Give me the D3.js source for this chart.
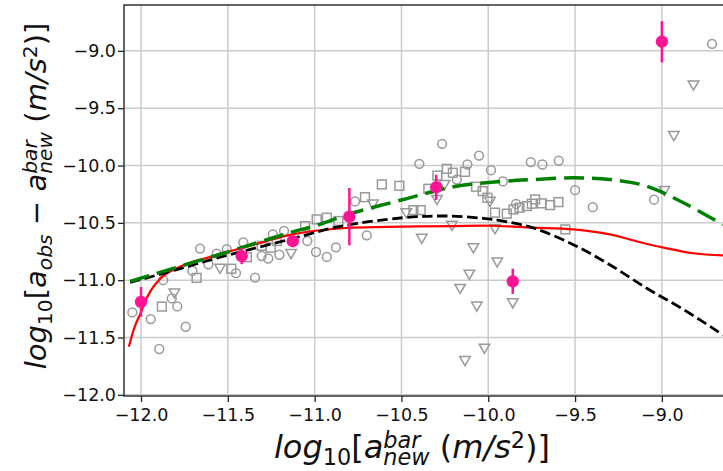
<!DOCTYPE html>
<html>
<head>
<meta charset="utf-8">
<script src="https://cdn.jsdelivr.net/npm/d3@7"></script>
<style>
	body { margin: 0; background: #fff; }
	svg { display: block; font-family: "DejaVu Sans", sans-serif; }
</style>
</head>
<body>
<div id="chart"></div>
<script>
// Binned points (magenta) with vertical errors
const binX = [-12.0, -11.42, -11.126, -10.80, -10.30, -9.859, -9.0];
const binY = [-11.19, -10.79, -10.66, -10.446, -10.19, -11.01, -8.92];
const binErr = [0.13, 0.07, 0.05, 0.25, 0.11, 0.11, 0.18];

// Grey open circles
const circX = [-12.05, -11.944, -11.895, -11.743, -11.791, -11.823, -11.872, -11.704, -11.66, -11.612,
	-11.564, -11.506, -11.453, -11.411, -11.343, -11.305, -11.267, -11.241, -11.203, -11.176,
	-11.042, -10.992, -10.93, -10.877, -10.767, -10.70, -10.397, -10.266, -10.181, -10.12,
	-10.053, -9.984, -9.916, -9.84, -9.755, -9.688, -9.594, -9.50, -9.398, -9.045, -8.711];
const circY = [-11.281, -11.339, -11.60, -11.406, -11.229, -11.159, -11.0, -10.919, -10.724, -10.861,
	-10.768, -10.73, -10.939, -10.67, -10.977, -10.789, -10.811, -10.60, -10.778, -10.571,
	-10.658, -10.754, -10.797, -10.713, -10.313, -10.609, -9.985, -9.811, -10.122, -9.991,
	-9.913, -10.041, -10.139, -10.335, -9.97, -9.991, -9.957, -10.215, -10.363, -10.298, -8.939];

// Grey open squares
const sqX = [-11.88, -11.68, -11.48, -11.39, -11.305, -11.253, -11.218, -11.055, -10.988, -10.93,
	-10.863, -10.71, -10.613, -10.512, -10.431, -10.389, -10.345, -10.293, -10.239, -10.204,
	-10.134, -10.07, -10.032, -10.005, -9.961, -9.893, -9.855, -9.82, -9.778, -9.749,
	-9.73, -9.692, -9.644, -9.596, -9.556];
const sqY = [-11.23, -10.98, -10.90, -10.80, -10.70, -10.716, -10.658, -10.528, -10.47, -10.455,
	-10.484, -10.276, -10.165, -10.177, -10.389, -10.389, -10.203, -10.087, -10.029, -10.063,
	-10.055, -10.185, -10.223, -10.281, -10.411, -10.42, -10.383, -10.368, -10.354, -10.333,
	-10.296, -10.33, -10.345, -10.319, -10.557];

// Grey open down-triangles
const triX = [-11.808, -11.545, -11.136, -10.664, -10.472, -10.383, -10.295, -10.252, -10.209, -10.162,
	-10.109, -10.086, -10.066, -10.022, -10.134, -9.99, -9.961, -9.948, -9.859, -8.985,
	-8.931, -8.818];
const triY = [-11.104, -10.887, -10.759, -10.328, -10.404, -10.626, -10.287, -10.157, -10.513, -11.063,
	-10.939, -10.709, -11.217, -11.585, -11.693, -10.304, -10.542, -10.832, -11.189, -10.209,
	-9.73, -9.29];

// Model curves
const redX = [-12.07, -12.035, -12.0, -11.975, -11.92, -11.86, -11.80, -11.73, -11.63, -11.52,
	-11.42, -11.30, -11.13, -10.82, -10.58, -10.20, -10.0, -9.82, -9.74, -9.51,
	-9.30, -9.13, -8.99, -8.82, -8.647];
const redY = [-11.58, -11.40, -11.28, -11.18, -11.04, -10.95, -10.90, -10.855, -10.81, -10.76,
	-10.72, -10.67, -10.60, -10.545, -10.535, -10.528, -10.525, -10.535, -10.542, -10.557,
	-10.60, -10.667, -10.716, -10.765, -10.783];

const blackX = [-12.063, -11.8, -11.545, -11.142, -10.85, -10.49, -10.25, -10.03, -9.93, -9.74,
	-9.51, -9.30, -9.087, -8.876, -8.647];
const blackY = [-11.02, -10.91, -10.80, -10.643, -10.53, -10.455, -10.44, -10.46, -10.48, -10.545,
	-10.69, -10.865, -11.07, -11.255, -11.478];

const greenX = [-12.063, -11.545, -11.142, -10.969, -10.815, -10.489, -10.201, -9.932, -9.74, -9.51,
	-9.298, -9.087, -8.876, -8.674, -8.647];
const greenY = [-11.01, -10.774, -10.585, -10.513, -10.43, -10.296, -10.185, -10.14, -10.122, -10.107,
	-10.122, -10.18, -10.325, -10.493, -10.515];

const xTicks = [-12.0, -11.5, -11.0, -10.5, -10.0, -9.5, -9.0];
const yTicks = [-12.0, -11.5, -11.0, -10.5, -10.0, -9.5, -9.0];

const width = 723, height = 471;
const plot = {left: 124, top: 5, right: 740, bottom: 396};
const grey = "#999";
const pink = "#ff1493";

const svg = d3.select("#chart").append("svg")
	.attr("width", width)
	.attr("height", height);

const x = d3.scaleLinear().domain([-12.098, -8.55]).range([plot.left, plot.right]);
const y = d3.scaleLinear().domain([-12.01, -8.6]).range([plot.bottom, plot.top]);

// Grid
const grid = svg.append("g");
grid.selectAll(".gx").data(xTicks).join("line")
	.attr("x1", d => x(d)).attr("x2", d => x(d))
	.attr("y1", plot.top).attr("y2", plot.bottom)
	.attr("stroke", "#cbcbcb").attr("stroke-width", 1.5);
grid.selectAll(".gy").data(yTicks).join("line")
	.attr("x1", plot.left).attr("x2", plot.right)
	.attr("y1", d => y(d)).attr("y2", d => y(d))
	.attr("stroke", "#cbcbcb").attr("stroke-width", 1.5);

svg.append("clipPath").attr("id", "plotclip")
	.append("rect")
	.attr("x", plot.left).attr("y", plot.top)
	.attr("width", plot.right - plot.left).attr("height", plot.bottom - plot.top);
const g = svg.append("g").attr("clip-path", "url(#plotclip)");

// Grey markers
g.append("g").selectAll("circle").data(d3.zip(circX, circY)).join("circle")
	.attr("cx", d => x(d[0])).attr("cy", d => y(d[1])).attr("r", 4.4)
	.attr("fill", "none").attr("stroke", grey).attr("stroke-width", 1.5);

g.append("g").selectAll("rect").data(d3.zip(sqX, sqY)).join("rect")
	.attr("x", d => x(d[0]) - 4.4).attr("y", d => y(d[1]) - 4.4)
	.attr("width", 8.8).attr("height", 8.8)
	.attr("fill", "none").attr("stroke", grey).attr("stroke-width", 1.5);

const tri = d3.symbol().type(d3.symbolTriangle).size(48);
g.append("g").selectAll("path").data(d3.zip(triX, triY)).join("path")
	.attr("d", tri)
	.attr("transform", d => `translate(${x(d[0])},${y(d[1])}) rotate(180)`)
	.attr("fill", "none").attr("stroke", grey).attr("stroke-width", 1.5);

// Curves
const line = d3.line().x(d => x(d[0])).y(d => y(d[1])).curve(d3.curveCatmullRom);

g.append("path").datum(d3.zip(redX, redY))
	.attr("d", line).attr("fill", "none")
	.attr("stroke", "red").attr("stroke-width", 2.2);

g.append("path").datum(d3.zip(blackX, blackY))
	.attr("d", line).attr("fill", "none")
	.attr("stroke", "black").attr("stroke-width", 2.8)
	.attr("stroke-dasharray", "10.5,4.5");

g.append("path").datum(d3.zip(greenX, greenY))
	.attr("d", line).attr("fill", "none")
	.attr("stroke", "green").attr("stroke-width", 3.5)
	.attr("stroke-dasharray", "20,8");

// Binned points
const bins = d3.zip(binX, binY, binErr);
g.append("g").selectAll("line").data(bins).join("line")
	.attr("x1", d => x(d[0])).attr("x2", d => x(d[0]))
	.attr("y1", d => y(d[1] - d[2])).attr("y2", d => y(d[1] + d[2]))
	.attr("stroke", pink).attr("stroke-width", 2.5);
g.append("g").selectAll("circle").data(bins).join("circle")
	.attr("cx", d => x(d[0])).attr("cy", d => y(d[1])).attr("r", 6.2)
	.attr("fill", pink);

// Axes
const xAxis = svg.append("g")
	.attr("transform", `translate(0,${plot.bottom})`)
	.call(d3.axisBottom(x).tickValues(xTicks).tickFormat(d3.format(".1f")).tickSize(6).tickPadding(7).tickSizeOuter(0));
const yAxis = svg.append("g")
	.attr("transform", `translate(${plot.left},0)`)
	.call(d3.axisLeft(y).tickValues(yTicks).tickFormat(d3.format(".1f")).tickSize(6).tickPadding(2).tickSizeOuter(0));

[xAxis, yAxis].forEach(a => {
	a.select(".domain").remove();
	a.selectAll("line").attr("stroke", "#222").attr("stroke-width", 1.3);
	a.selectAll("text").attr("font-size", 17.5).attr("fill", "#111")
		.attr("font-family", "DejaVu Sans");
});

// Spines
svg.append("rect")
	.attr("x", plot.left).attr("y", plot.top)
	.attr("width", plot.right - plot.left).attr("height", plot.bottom - plot.top)
	.attr("fill", "none").attr("stroke", "#333").attr("stroke-width", 1.5);

// Mathtext-style labels
function mathLabel(text, parts, size) {
	let cur = 0;
	let lastW = 0;
	parts.forEach(p => {
		const fs = p.pos === "base" ? size : size * 0.7;
		const off = p.pos === "sup" ? -size * 0.3 : p.pos === "sub" ? size * 0.21 : 0;
		const ts = text.append("tspan")
			.attr("font-size", fs)
			.attr("font-style", p.it ? "italic" : "normal")
			.attr("dy", off - cur)
			.text(p.t);
		if (p.back) ts.attr("dx", -lastW);
		cur = off;
		lastW = ts.node().getComputedTextLength();
	});
}

const xLabel = svg.append("text")
	.attr("x", 412).attr("y", 458)
	.attr("text-anchor", "middle")
	.attr("fill", "#111");
mathLabel(xLabel, [
	{t: "log", it: true, pos: "base"},
	{t: "10", pos: "sub"},
	{t: "[", pos: "base"},
	{t: "a", it: true, pos: "base"},
	{t: "bar", it: true, pos: "sup"},
	{t: "new", it: true, pos: "sub", back: true},
	{t: " (", pos: "base"},
	{t: "m/s", it: true, pos: "base"},
	{t: "2", pos: "sup"},
	{t: ")]", pos: "base"}
], 32);

const yLabel = svg.append("text")
	.attr("transform", "translate(46,196) rotate(-90)")
	.attr("text-anchor", "middle")
	.attr("fill", "#111");
mathLabel(yLabel, [
	{t: "log", it: true, pos: "base"},
	{t: "10", pos: "sub"},
	{t: "[", pos: "base"},
	{t: "a", it: true, pos: "base"},
	{t: "obs", it: true, pos: "sub"},
	{t: " − ", pos: "base"},
	{t: "a", it: true, pos: "base"},
	{t: "bar", it: true, pos: "sup"},
	{t: "new", it: true, pos: "sub", back: true},
	{t: " (", pos: "base"},
	{t: "m/s", it: true, pos: "base"},
	{t: "2", pos: "sup"},
	{t: ")]", pos: "base"}
], 29);
</script>
</body>
</html>
